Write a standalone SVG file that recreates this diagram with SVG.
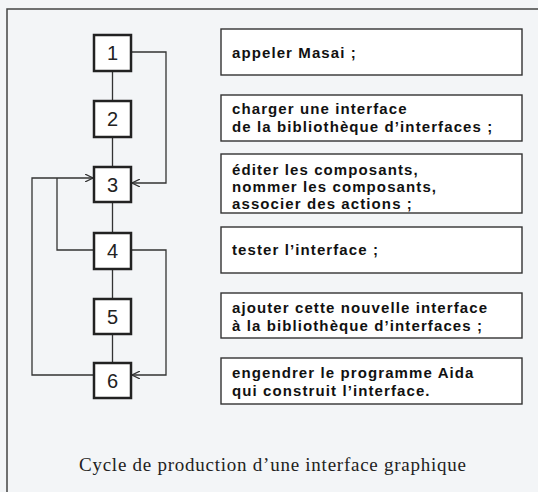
<svg xmlns="http://www.w3.org/2000/svg" width="538" height="492" viewBox="0 0 538 492">
<defs>
<marker id="ah" viewBox="0 0 10 10" refX="10" refY="5" markerWidth="8" markerHeight="8" orient="auto" markerUnits="userSpaceOnUse">
<path d="M0,0 L10,5 L0,10" fill="none" stroke="#333" stroke-width="1.5"/>
</marker>
<style>
.frame{stroke:#444;stroke-width:1.5;fill:none}
.num{fill:#fff;stroke:#222;stroke-width:2.5}
.numt{font-family:"Liberation Sans",Arial,sans-serif;font-size:20px;fill:#222;text-anchor:middle}
.tb{fill:#fff;stroke:#333;stroke-width:1.4}
.tt{font-family:"Liberation Sans",Arial,sans-serif;font-weight:bold;font-size:15px;letter-spacing:1.1px;fill:#111}
.c{fill:none;stroke:#333;stroke-width:1.3}
.cap{font-family:"Liberation Serif","Times New Roman",serif;font-size:19px;letter-spacing:0.75px;fill:#222}
</style>
</defs>
<rect width="538" height="492" fill="#f3f5f7"/>
<path class="frame" d="M7,492 V9 H538"/>
<g id="connectors">
<path class="c" d="M112.5,71 V101 M112.5,137 V167 M112.5,202 V233 M112.5,269 V299 M112.5,334 V363"/>
<path class="c" d="M131,52 H166 V183 H132" marker-end="url(#ah)"/>
<path class="c" d="M94,250 H57 V178"/>
<path class="c" d="M94,375 H32 V178 H93" marker-end="url(#ah)"/>
<path class="c" d="M131,250 H166 V375 H132" marker-end="url(#ah)"/>
</g>
<g id="n1"><rect class="num" x="94" y="35" width="37" height="36"/><text class="numt" x="112.5" y="60">1</text></g>
<g id="n2"><rect class="num" x="94" y="101" width="37" height="36"/><text class="numt" x="112.5" y="126">2</text></g>
<g id="n3"><rect class="num" x="94" y="167" width="37" height="35"/><text class="numt" x="112.5" y="192">3</text></g>
<g id="n4"><rect class="num" x="94" y="233" width="37" height="36"/><text class="numt" x="112.5" y="258">4</text></g>
<g id="n5"><rect class="num" x="94" y="299" width="37" height="35"/><text class="numt" x="112.5" y="324">5</text></g>
<g id="n6"><rect class="num" x="94" y="363" width="37" height="35"/><text class="numt" x="112.5" y="388">6</text></g>
<g id="t1"><rect class="tb" x="221" y="29" width="301" height="46"/><text class="tt" x="232" y="58">appeler Masai ;</text></g>
<g id="t2"><rect class="tb" x="221" y="95" width="301" height="46"/><text class="tt" x="232" y="114">charger une interface</text><text class="tt" x="232" y="132">de la bibliothèque d’interfaces ;</text></g>
<g id="t3"><rect class="tb" x="221" y="154" width="301" height="59"/><text class="tt" x="232" y="175">éditer les composants,</text><text class="tt" x="232" y="192">nommer les composants,</text><text class="tt" x="232" y="209">associer des actions ;</text></g>
<g id="t4"><rect class="tb" x="221" y="227" width="301" height="46"/><text class="tt" x="232" y="255">tester l’interface ;</text></g>
<g id="t5"><rect class="tb" x="221" y="293" width="301" height="45"/><text class="tt" x="232" y="313">ajouter cette nouvelle interface</text><text class="tt" x="232" y="331">à la bibliothèque d’interfaces ;</text></g>
<g id="t6"><rect class="tb" x="221" y="358" width="301" height="46"/><text class="tt" x="232" y="378">engendrer le programme Aida</text><text class="tt" x="232" y="396">qui construit l’interface.</text></g>
<text class="cap" x="79" y="471">Cycle de production d’une interface graphique</text>
</svg>
